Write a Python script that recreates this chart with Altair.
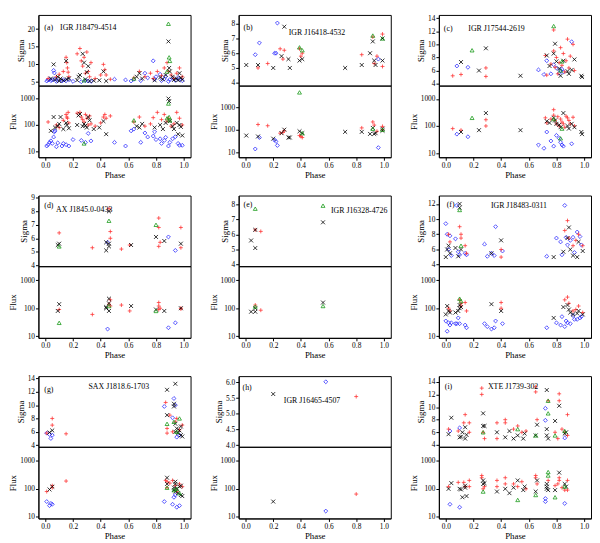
import altair as alt
import pandas as pd

# d = blue diamond, p = red plus, x = black cross, t = green triangle
KINDS = ["d", "p", "x", "t"]
KIND_COLORS = ["#2a2aff", "#ff3535", "#000000", "#1a9a1a"]
KIND_SHAPES = ["diamond", "M-1,0L1,0M0,-1L0,1", "M-1,-1L1,1M-1,1L1,-1", "triangle-up"]
PHASE_TICKS = [0.0, 0.2, 0.4, 0.6, 0.8, 1.0]
FLUX_TICKS = [10, 100, 1000]
FONT = "Liberation Serif"
W, HT, HB = 155, 72, 73

# (kind, phase, sigma, flux)
A_POINTS = [
    ("d", 0.01, 5.3, 16), ("d", 0.02, 5.6, 18), ("d", 0.03, 5.8, 22), ("d", 0.04, 5.4, 25),
    ("d", 0.05, 5.6, 20), ("d", 0.06, 8.3, 35), ("d", 0.065, 7.6, 55), ("d", 0.07, 5.9, 60),
    ("d", 0.08, 5.2, 15), ("d", 0.09, 5.5, 21), ("d", 0.12, 5.3, 16), ("d", 0.13, 5.6, 20),
    ("d", 0.15, 5.4, 18), ("d", 0.17, 5.7, 16), ("d", 0.20, 5.2, 28), ("d", 0.26, 5.1, 26),
    ("d", 0.29, 5.4, 22), ("d", 0.31, 5.3, 48), ("d", 0.33, 5.2, 25), ("d", 0.50, 5.8, 22),
    ("d", 0.58, 5.6, 16), ("d", 0.62, 5.3, 60), ("d", 0.64, 5.8, 70), ("d", 0.69, 5.4, 22),
    ("d", 0.72, 7.5, 50), ("d", 0.74, 6.2, 35), ("d", 0.78, 11.0, 38), ("d", 0.79, 5.8, 55),
    ("d", 0.80, 6.5, 28), ("d", 0.83, 7.2, 30), ("d", 0.84, 5.4, 20), ("d", 0.86, 5.9, 26),
    ("d", 0.87, 6.6, 34), ("d", 0.89, 5.2, 16), ("d", 0.90, 5.7, 22), ("d", 0.92, 6.1, 30),
    ("d", 0.94, 5.5, 36), ("d", 0.96, 6.3, 20), ("d", 0.97, 5.8, 17), ("d", 0.99, 5.4, 17),
    ("p", 0.02, 6.0, 130), ("p", 0.08, 6.5, 100), ("p", 0.10, 7.2, 80), ("p", 0.13, 8.0, 150),
    ("p", 0.15, 12.0, 250), ("p", 0.155, 10.5, 200), ("p", 0.16, 9.0, 180), ("p", 0.165, 7.8, 300),
    ("p", 0.17, 6.5, 120), ("p", 0.23, 13.0, 280), ("p", 0.25, 14.5, 300), ("p", 0.26, 11.0, 200),
    ("p", 0.27, 9.5, 160), ("p", 0.28, 12.0, 130), ("p", 0.29, 7.5, 250), ("p", 0.30, 13.5, 180),
    ("p", 0.31, 8.0, 100), ("p", 0.32, 6.5, 220), ("p", 0.33, 10.5, 110), ("p", 0.36, 6.0, 90),
    ("p", 0.40, 7.0, 120), ("p", 0.42, 10.0, 200), ("p", 0.43, 8.5, 250), ("p", 0.44, 7.0, 180),
    ("p", 0.47, 5.8, 220), ("p", 0.64, 6.2, 130), ("p", 0.68, 8.0, 200), ("p", 0.72, 6.5, 90),
    ("p", 0.76, 7.5, 110), ("p", 0.78, 6.0, 190), ("p", 0.81, 8.0, 300), ("p", 0.84, 6.8, 160),
    ("p", 0.86, 9.0, 250), ("p", 0.88, 10.5, 140), ("p", 0.89, 8.0, 180), ("p", 0.91, 7.0, 90),
    ("p", 0.93, 6.0, 110), ("p", 0.95, 7.5, 300), ("p", 0.97, 9.0, 180), ("p", 0.99, 6.5, 100),
    ("x", 0.04, 6.0, 60), ("x", 0.06, 10.0, 200), ("x", 0.07, 5.7, 80), ("x", 0.09, 6.5, 90),
    ("x", 0.10, 5.3, 110), ("x", 0.11, 6.0, 200), ("x", 0.13, 5.5, 70), ("x", 0.15, 11.0, 120),
    ("x", 0.155, 5.8, 100), ("x", 0.17, 6.0, 75), ("x", 0.23, 5.5, 100), ("x", 0.24, 6.5, 230),
    ("x", 0.25, 7.0, 260), ("x", 0.27, 13.0, 90), ("x", 0.28, 10.5, 110), ("x", 0.29, 5.8, 95),
    ("x", 0.30, 7.8, 80), ("x", 0.31, 9.5, 200), ("x", 0.32, 5.3, 150), ("x", 0.35, 5.4, 70),
    ("x", 0.39, 5.5, 80), ("x", 0.42, 8.0, 140), ("x", 0.44, 5.3, 45), ("x", 0.66, 6.5, 90),
    ("x", 0.68, 7.5, 80), ("x", 0.70, 6.0, 110), ("x", 0.79, 5.5, 80), ("x", 0.83, 6.3, 100),
    ("x", 0.85, 5.8, 70), ("x", 0.87, 7.0, 120), ("x", 0.89, 16.5, 1000), ("x", 0.895, 9.0, 800),
    ("x", 0.90, 8.0, 140), ("x", 0.92, 6.5, 90), ("x", 0.93, 5.6, 70), ("x", 0.95, 6.0, 120),
    ("x", 0.96, 5.5, 45), ("x", 0.97, 7.5, 100), ("x", 0.98, 6.2, 85), ("x", 0.99, 5.7, 40),
    ("t", 0.28, 5.5, 20), ("t", 0.64, 6.0, 150), ("t", 0.89, 21.5, 650), ("t", 0.895, 12.0, 200),
    ("t", 0.90, 11.0, 150), ("t", 0.88, 8.0, 180),
]

B_POINTS = [
    ("d", 0.07, 5.9, 14), ("d", 0.10, 6.7, 45), ("d", 0.21, 6.0, 35), ("d", 0.22, 6.0, 30),
    ("d", 0.23, 8.05, 20), ("d", 0.96, 5.6, 16),
    ("p", 0.09, 5.0, 170), ("p", 0.16, 5.3, 150), ("p", 0.25, 6.3, 70), ("p", 0.27, 5.6, 75),
    ("p", 0.28, 6.2, 90), ("p", 0.39, 6.3, 55), ("p", 0.40, 5.8, 50), ("p", 0.41, 6.0, 45),
    ("p", 0.84, 5.9, 120), ("p", 0.92, 7.1, 220), ("p", 0.93, 5.3, 160), ("p", 0.95, 5.8, 85),
    ("p", 0.99, 7.3, 140), ("p", 0.99, 5.1, 100),
    ("x", 0.005, 5.2, 55), ("x", 0.09, 5.2, 50), ("x", 0.20, 5.0, 40), ("x", 0.26, 5.8, 70),
    ("x", 0.28, 7.8, 100), ("x", 0.31, 5.6, 45), ("x", 0.32, 5.0, 45), ("x", 0.39, 5.5, 85),
    ("x", 0.41, 5.6, 70), ("x", 0.72, 5.0, 80), ("x", 0.84, 5.2, 80), ("x", 0.90, 6.0, 65),
    ("x", 0.92, 6.8, 120), ("x", 0.93, 5.5, 65), ("x", 0.94, 5.2, 70), ("x", 0.99, 7.0, 110),
    ("x", 0.99, 5.5, 90),
    ("t", 0.39, 6.4, 4500), ("t", 0.41, 6.2, 70), ("t", 0.92, 7.2, 110), ("t", 0.99, 7.0, 100),
]

C_POINTS = [
    ("d", 0.08, 6.7, 50), ("d", 0.16, 6.5, 40), ("d", 0.67, 6.1, 20), ("d", 0.71, 5.4, 15),
    ("d", 0.73, 7.5, 60), ("d", 0.76, 5.5, 28), ("d", 0.78, 6.9, 18), ("d", 0.80, 6.4, 45),
    ("d", 0.82, 5.6, 35), ("d", 0.83, 6.0, 25), ("d", 0.84, 6.2, 20), ("d", 0.85, 5.8, 18),
    ("d", 0.91, 10.4, 22),
    ("p", 0.05, 5.2, 80), ("p", 0.11, 5.4, 70), ("p", 0.29, 6.4, 170), ("p", 0.29, 5.1, 100),
    ("p", 0.72, 8.3, 200), ("p", 0.73, 5.3, 130), ("p", 0.76, 7.0, 180), ("p", 0.78, 12.2, 400),
    ("p", 0.78, 9.0, 250), ("p", 0.79, 6.5, 160), ("p", 0.80, 8.0, 120), ("p", 0.81, 5.5, 220),
    ("p", 0.82, 7.2, 100), ("p", 0.83, 9.5, 180), ("p", 0.84, 6.8, 140), ("p", 0.85, 8.6, 120),
    ("p", 0.86, 5.8, 90), ("p", 0.87, 7.5, 230), ("p", 0.88, 10.8, 200), ("p", 0.89, 6.4, 160),
    ("p", 0.90, 8.2, 120), ("p", 0.92, 10.0, 210), ("p", 0.93, 6.0, 100),
    ("x", 0.11, 7.3, 60), ("x", 0.24, 6.0, 70), ("x", 0.29, 9.4, 300), ("x", 0.54, 5.2, 70),
    ("x", 0.73, 8.3, 150), ("x", 0.75, 6.7, 130), ("x", 0.78, 8.6, 200), ("x", 0.79, 10.1, 160),
    ("x", 0.80, 7.4, 120), ("x", 0.82, 6.3, 110), ("x", 0.83, 5.2, 90), ("x", 0.85, 7.5, 300),
    ("x", 0.88, 5.9, 100), ("x", 0.89, 5.5, 80), ("x", 0.91, 6.1, 120), ("x", 0.93, 7.7, 90),
    ("x", 0.98, 5.2, 60), ("x", 0.985, 5.0, 50),
    ("t", 0.19, 9.1, 200), ("t", 0.78, 12.8, 180), ("t", 0.84, 7.4, 80), ("t", 0.83, 6.0, 35),
]

D_POINTS = [
    ("d", 0.45, 5.7, 18), ("d", 0.89, 6.1, 20), ("d", 0.94, 5.1, 30),
    ("p", 0.10, 6.4, 90), ("p", 0.34, 5.3, 60), ("p", 0.46, 8.2, 140), ("p", 0.47, 6.5, 200),
    ("p", 0.47, 6.0, 120), ("p", 0.55, 5.2, 130), ("p", 0.61, 5.5, 80), ("p", 0.82, 7.5, 160),
    ("p", 0.82, 6.8, 120), ("p", 0.83, 5.7, 100), ("p", 0.82, 5.4, 90), ("p", 0.98, 6.8, 100),
    ("p", 0.98, 5.3, 95),
    ("x", 0.10, 5.6, 140), ("x", 0.09, 5.5, 80), ("x", 0.44, 5.1, 110), ("x", 0.44, 5.7, 100),
    ("x", 0.46, 5.6, 220), ("x", 0.46, 5.4, 80), ("x", 0.46, 8.0, 150), ("x", 0.62, 5.5, 120),
    ("x", 0.80, 6.1, 90), ("x", 0.86, 5.8, 80), ("x", 0.98, 5.6, 100),
    ("t", 0.10, 5.4, 30), ("t", 0.46, 7.3, 120), ("t", 0.80, 7.0, 80),
]

E_POINTS = [
    ("p", 0.11, 6.2, 85), ("p", 0.07, 6.3, 130),
    ("x", 0.04, 5.6, 75), ("x", 0.07, 6.3, 75), ("x", 0.07, 5.1, 100), ("x", 0.56, 6.8, 160),
    ("t", 0.07, 7.7, 115), ("t", 0.56, 7.9, 120),
]

F_POINTS = [
    ("d", 0.00, 9.4, 35), ("d", 0.01, 8.0, 15), ("d", 0.02, 6.0, 30), ("d", 0.03, 7.8, 25),
    ("d", 0.04, 5.2, 30), ("d", 0.08, 11.8, 28), ("d", 0.07, 7.4, 28), ("d", 0.09, 5.7, 45),
    ("d", 0.10, 5.3, 28), ("d", 0.14, 5.5, 25), ("d", 0.15, 5.3, 20), ("d", 0.28, 6.7, 28),
    ("d", 0.30, 5.1, 22), ("d", 0.33, 5.5, 18), ("d", 0.35, 5.2, 20), ("d", 0.36, 9.0, 35),
    ("d", 0.41, 5.8, 28), ("d", 0.73, 5.1, 20), ("d", 0.80, 7.5, 30), ("d", 0.83, 7.0, 25),
    ("d", 0.84, 5.3, 50), ("d", 0.86, 11.8, 22), ("d", 0.87, 7.6, 35), ("d", 0.88, 6.6, 30),
    ("d", 0.90, 7.2, 28), ("d", 0.92, 7.6, 55), ("d", 0.93, 5.6, 40), ("d", 0.95, 8.3, 40),
    ("d", 0.97, 7.7, 45), ("d", 0.98, 6.6, 50),
    ("p", 0.02, 8.0, 100), ("p", 0.03, 7.0, 80), ("p", 0.10, 9.0, 200), ("p", 0.11, 8.0, 150),
    ("p", 0.11, 7.5, 120), ("p", 0.14, 6.5, 160), ("p", 0.15, 5.5, 80), ("p", 0.40, 6.0, 160),
    ("p", 0.40, 5.0, 100), ("p", 0.86, 8.5, 200), ("p", 0.88, 9.8, 250), ("p", 0.89, 7.5, 150),
    ("p", 0.92, 6.5, 80), ("p", 0.94, 7.2, 90), ("p", 0.96, 8.0, 120), ("p", 0.99, 6.5, 70),
    ("x", 0.00, 5.0, 60), ("x", 0.01, 6.0, 120), ("x", 0.02, 6.5, 80), ("x", 0.03, 5.5, 70),
    ("x", 0.07, 6.2, 70), ("x", 0.09, 5.1, 80), ("x", 0.10, 11.5, 100), ("x", 0.10, 12.0, 130),
    ("x", 0.11, 6.0, 110), ("x", 0.33, 5.5, 140), ("x", 0.40, 7.2, 80), ("x", 0.78, 5.0, 45),
    ("x", 0.85, 5.7, 110), ("x", 0.88, 7.5, 130), ("x", 0.89, 8.9, 90), ("x", 0.90, 6.0, 70),
    ("x", 0.92, 5.2, 60), ("x", 0.95, 5.0, 65), ("x", 0.96, 7.0, 80), ("x", 0.99, 5.8, 60),
    ("t", 0.10, 11.2, 220), ("t", 0.11, 6.5, 180),
]

G_POINTS = [
    ("d", 0.01, 5.8, 35), ("d", 0.03, 5.6, 25), ("d", 0.04, 5.0, 30), ("d", 0.05, 5.5, 28),
    ("d", 0.86, 9.8, 35), ("d", 0.92, 8.1, 28), ("d", 0.93, 11.0, 50), ("d", 0.94, 10.0, 60),
    ("d", 0.95, 5.2, 22), ("d", 0.97, 5.5, 25),
    ("p", 0.01, 5.8, 80), ("p", 0.05, 8.0, 130), ("p", 0.05, 7.0, 110), ("p", 0.15, 5.7, 190),
    ("p", 0.87, 10.4, 200), ("p", 0.88, 6.5, 180), ("p", 0.88, 5.8, 110), ("p", 0.90, 8.5, 160),
    ("p", 0.92, 6.0, 200), ("p", 0.94, 7.5, 130), ("p", 0.95, 8.0, 80), ("p", 0.97, 6.3, 150),
    ("p", 0.99, 7.0, 120),
    ("x", 0.03, 5.9, 95), ("x", 0.05, 6.2, 120), ("x", 0.88, 12.3, 250), ("x", 0.88, 8.5, 150),
    ("x", 0.94, 13.2, 180), ("x", 0.93, 9.8, 110), ("x", 0.93, 10.2, 90), ("x", 0.94, 7.2, 80),
    ("x", 0.95, 6.5, 100), ("x", 0.94, 6.0, 150), ("x", 0.97, 6.2, 120), ("x", 0.98, 5.5, 130),
    ("x", 0.98, 6.8, 60), ("x", 0.99, 5.3, 55), ("x", 0.96, 5.8, 70),
    ("t", 0.88, 7.2, 110), ("t", 0.93, 7.5, 90), ("t", 0.97, 8.0, 70), ("t", 0.95, 6.0, 100),
]

H_POINTS = [
    ("x", 0.20, 5.63, 35), ("d", 0.58, 6.02, 16), ("p", 0.80, 5.55, 65),
]

I_POINTS = [
    ("d", 0.03, 6.2, 28), ("d", 0.10, 6.7, 22), ("d", 0.72, 9.8, 45), ("d", 0.72, 7.9, 35),
    ("d", 0.86, 5.1, 30),
    ("p", 0.02, 6.5, 120), ("p", 0.09, 6.2, 170), ("p", 0.13, 7.5, 170), ("p", 0.14, 8.8, 120),
    ("p", 0.17, 7.5, 200), ("p", 0.17, 6.0, 120), ("p", 0.26, 12.0, 250), ("p", 0.26, 13.0, 300),
    ("p", 0.27, 6.0, 100), ("p", 0.28, 5.0, 120), ("p", 0.37, 7.5, 200), ("p", 0.37, 5.0, 120),
    ("p", 0.43, 8.0, 250), ("p", 0.43, 7.5, 150), ("p", 0.49, 6.5, 150), ("p", 0.52, 7.0, 120),
    ("p", 0.55, 6.0, 180), ("p", 0.58, 6.2, 100), ("p", 0.65, 13.2, 300), ("p", 0.65, 12.4, 250),
    ("p", 0.66, 8.0, 150), ("p", 0.74, 11.0, 200), ("p", 0.79, 6.0, 130), ("p", 0.81, 5.0, 150),
    ("p", 0.82, 12.1, 250), ("p", 0.82, 11.0, 200), ("p", 0.84, 6.5, 110), ("p", 0.88, 8.8, 200),
    ("p", 0.88, 5.5, 90), ("p", 0.86, 6.0, 90),
    ("x", 0.02, 5.7, 100), ("x", 0.04, 8.3, 160), ("x", 0.10, 5.2, 100), ("x", 0.11, 5.3, 95),
    ("x", 0.12, 6.0, 50), ("x", 0.14, 6.8, 130), ("x", 0.14, 5.0, 110), ("x", 0.15, 5.6, 55),
    ("x", 0.27, 9.0, 200), ("x", 0.27, 7.0, 150), ("x", 0.28, 7.0, 160), ("x", 0.37, 6.0, 80),
    ("x", 0.43, 5.2, 100), ("x", 0.46, 6.2, 70), ("x", 0.49, 5.0, 110), ("x", 0.52, 5.5, 200),
    ("x", 0.56, 5.0, 90), ("x", 0.57, 5.8, 120), ("x", 0.65, 5.5, 80), ("x", 0.66, 7.2, 200),
    ("x", 0.73, 12.7, 150), ("x", 0.73, 6.5, 120), ("x", 0.73, 5.5, 100), ("x", 0.74, 5.0, 90),
    ("x", 0.79, 7.8, 90), ("x", 0.82, 10.2, 380), ("x", 0.86, 5.8, 150), ("x", 0.87, 6.0, 120),
    ("t", 0.27, 6.0, 80), ("t", 0.52, 6.5, 40), ("t", 0.65, 5.5, 60), ("t", 0.74, 9.0, 400),
    ("t", 0.74, 11.0, 300), ("t", 0.79, 5.5, 50), ("t", 0.86, 6.2, 120),
]

LETTERS = ["(a)", "(b)", "(c)", "(d)", "(e)", "(f)", "(g)", "(h)", "(i)"]
NAMES = ["IGR J18479-4514", "IGR J16418-4532", "IGR J17544-2619",
         "AX J1845.0-0433", "IGR J16328-4726", "IGR J18483-0311",
         "SAX J1818.6-1703", "IGR J16465-4507", "XTE J1739-302"]
SIGMA_DOMAINS = [[4, 24], [3.8, 8.6], [3.7, 14.5], [3.93, 9.17], [3.9, 8.57],
                 [3.8, 13.1], [3.75, 14.35], [3.95, 6.2], [3.7, 14.9]]
SIGMA_TICKS = [[5, 10, 15, 20], [4, 5, 6, 7, 8], [4, 6, 8, 10, 12, 14], [4, 5, 6, 7, 8, 9],
               [4, 5, 6, 7, 8], [4, 6, 8, 10, 12], [4, 6, 8, 10, 12, 14],
               [4.0, 4.5, 5.0, 5.5, 6.0], [4, 6, 8, 10, 12, 14]]
SIGMA_FORMATS = ["d", "d", "d", "d", "d", "d", "d", ".1f", "d"]
FLUX_DOMAINS = [[6, 3100], [6, 9000], [7, 3100], [8.7, 3200], [8.7, 3200],
                [8.7, 3200], [8.7, 3200], [8.7, 3200], [8.7, 3200]]
LETTER_POS = [(6, 13), (5, 13), (5, 14), (6, 11), (5, 10), (8, 10), (6, 14), (4, 12), (6, 11)]
NAME_POS = [(22, 13), (51, 18), (30, 14), (18, 15), (94, 16), (53, 11), (51, 11), (46, 25), (50, 11)]
PANEL_POINTS = [A_POINTS, B_POINTS, C_POINTS, D_POINTS, E_POINTS, F_POINTS,
                G_POINTS, H_POINTS, I_POINTS]


def make_panel(i):
    df = pd.DataFrame(PANEL_POINTS[i], columns=["kind", "phase", "sigma", "flux"])
    x_scale = alt.Scale(domain=[-0.05, 1.05], nice=False, zero=False)
    color = alt.Color("kind:N", scale=alt.Scale(domain=KINDS, range=KIND_COLORS), legend=None)
    shape = alt.Shape("kind:N", scale=alt.Scale(domain=KINDS, range=KIND_SHAPES), legend=None)
    base = alt.Chart(df).mark_point(filled=False, size=16, strokeWidth=0.8, opacity=1)

    top = base.encode(
        x=alt.X("phase:Q", scale=x_scale, axis=None),
        y=alt.Y("sigma:Q", scale=alt.Scale(domain=SIGMA_DOMAINS[i], nice=False, zero=False),
                axis=alt.Axis(title="Sigma", values=SIGMA_TICKS[i], format=SIGMA_FORMATS[i])),
        color=color, shape=shape,
    )
    lx, ly = LETTER_POS[i]
    nx, ny = NAME_POS[i]
    letter = alt.Chart(pd.DataFrame({"t": [LETTERS[i]]})).mark_text(
        align="left", baseline="middle", font=FONT, fontSize=8, color="black"
    ).encode(x=alt.value(lx), y=alt.value(ly), text="t:N")
    name = alt.Chart(pd.DataFrame({"t": [NAMES[i]]})).mark_text(
        align="left", baseline="middle", font=FONT, fontSize=8, color="black"
    ).encode(x=alt.value(nx), y=alt.value(ny), text="t:N")
    top = alt.layer(top, letter, name).properties(width=W, height=HT)

    bottom = base.encode(
        x=alt.X("phase:Q", scale=x_scale,
                axis=alt.Axis(title="Phase", values=PHASE_TICKS, format=".1f")),
        y=alt.Y("flux:Q", scale=alt.Scale(type="log", domain=FLUX_DOMAINS[i], nice=False),
                axis=alt.Axis(title="Flux", values=FLUX_TICKS, format="d")),
        color=color, shape=shape,
    ).properties(width=W, height=HB)

    return alt.vconcat(top, bottom, spacing=0, bounds="flush")


rows = []
for r in range(3):
    rows.append(alt.hconcat(*[make_panel(3 * r + c) for c in range(3)], spacing=17))

chart = alt.vconcat(*rows, spacing=13, padding=0).configure_view(
    stroke="black", strokeWidth=1
).configure_axis(
    grid=False, labelFont=FONT, titleFont=FONT, labelFontSize=7.5, titleFontSize=9,
    titleFontWeight="normal", tickSize=3, labelPadding=1, titlePadding=2,
    domainColor="black", tickColor="black", labelColor="black", titleColor="black",
)

chart.save("out.html", embed_options={"renderer": "svg", "actions": False})
